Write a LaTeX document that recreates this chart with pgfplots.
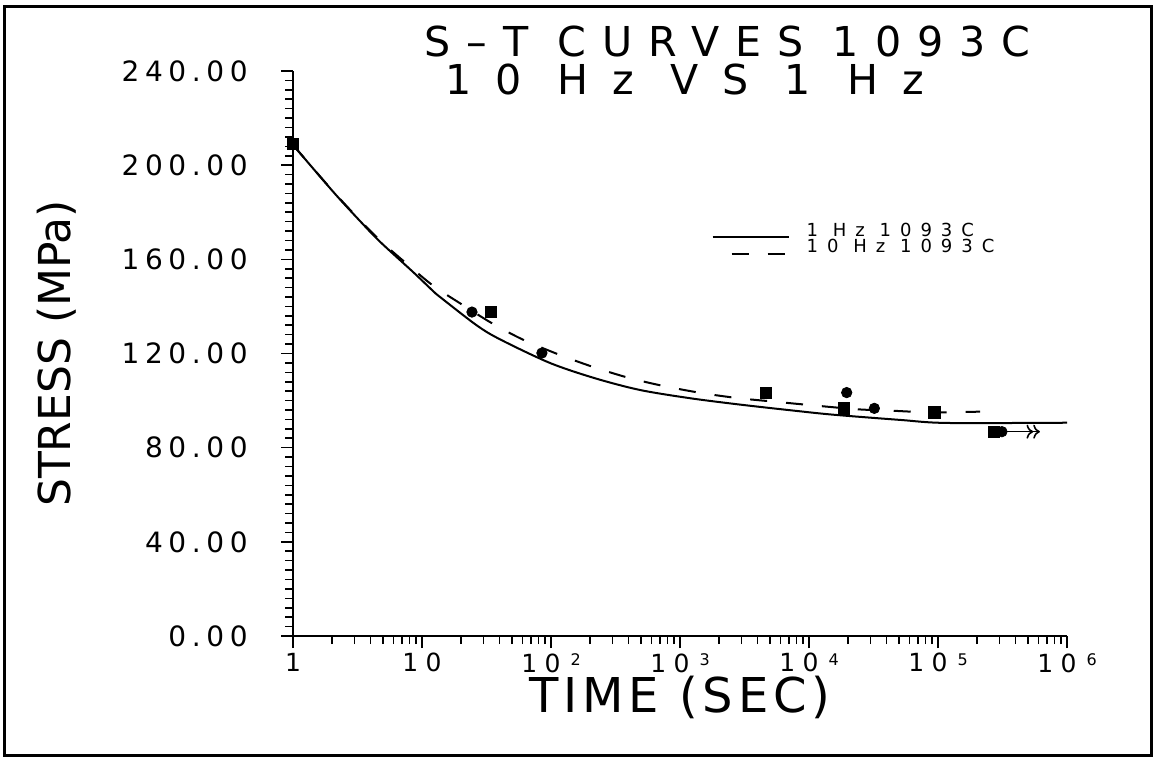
\documentclass[border=0pt]{standalone}
\usepackage{fontspec}
\setmainfont{DejaVu Sans}
\usepackage{pgfplots}
\pgfplotsset{compat=1.18}
\usetikzlibrary{arrows.meta}

\newcommand\ls[1]{\addfontfeatures{LetterSpace=#1}}
\newcommand\ex[1]{10\hspace{5pt}\raisebox{3.4pt}{\fontsize{8}{8}\selectfont #1}}

\begin{document}
\begin{tikzpicture}
\useasboundingbox (0,0) rectangle (577pt,378.5pt);
\draw[line width=1.5pt] (2pt,1pt) rectangle (575.5pt,375pt);

\begin{axis}[
  at={(146.5pt,60.5pt)}, anchor=south west,
  scale only axis, width=387pt, height=282.5pt,
  xmode=log, xmin=1, xmax=1e6, ymin=0, ymax=240,
  axis x line=bottom, axis y line=left,
  axis line style={-, line width=1pt},
  tick align=outside, tick style={black, line width=0.8pt},
  major tick length=6pt, minor tick length=4pt,
  xtick={1,10,100,1000,10000,100000,1000000},
  xticklabels={1,10,\ex{2},\ex{3},\ex{4},\ex{5},\ex{6}},
  minor xtick={2,3,4,5,6,7,8,9,20,30,40,50,60,70,80,90,200,300,400,500,600,700,800,900,
    2000,3000,4000,5000,6000,7000,8000,9000,20000,30000,40000,50000,60000,70000,80000,90000,
    200000,300000,400000,500000,600000,700000,800000,900000},
  ytick={0,40,...,240},
  yticklabels={0.00,40.00,80.00,120.00,160.00,200.00,240.00},
  minor y tick num=9,
  xticklabel style={anchor=north, inner sep=0pt, yshift=-2.5pt, font=\fontsize{12.5}{13}\selectfont\ls{30}},
  yticklabel style={anchor=east, inner sep=0pt, xshift=-16.5pt, font=\fontsize{14}{15}\selectfont\ls{20}},
  xlabel={TIME (SEC)},
  xlabel style={at={(axis description cs:0.5,-0.109)}, anchor=center, inner sep=0pt, font=\fontsize{24}{26}\selectfont\ls{10}},
  ylabel={STRESS (MPa)},
  ylabel style={at={(axis description cs:-0.305,0.5)}, anchor=center, inner sep=0pt, font=\fontsize{22}{24}\selectfont},
  clip=false,
  legend style={draw=none, fill=none, at={(axis description cs:0.541,0.731)}, anchor=north west,
    inner sep=0pt, outer sep=0pt, row sep=0pt, column sep=8.5pt,
    nodes={inner sep=0pt}, font=\fontsize{9}{9.5}\selectfont\ls{50}},
  legend cell align=left,
  legend image code/.code={\draw[#1] (0pt,-3pt) -- (38pt,-3pt);},
]
% 1 Hz curve
\addplot[black, line width=1pt, smooth, tension=0.5, forget plot] coordinates {
  (1,208.6) (1.72,193.5) (2.31,185.5) (3.41,175.5) (4.72,167.5) (8.57,154.5)
  (12.2,146.5) (13.8,144) (26.5,132) (40.3,126) (98,116) (219,109.5) (490,104.5)
  (1200,101) (2920,98.3) (8040,95.6) (15500,94.0) (50700,91.8) (117000,90.5) (1000000,90.6)};
% 10 Hz curve
\addplot[black, line width=1pt, smooth, tension=0.5, dash pattern=on 8.5pt off 9.5pt, forget plot] coordinates {
  (1,208.6) (1.72,193.6) (2.31,185.7) (3.41,175.8) (4.86,167.4) (7.66,158) (12.2,148.8)
  (19.9,141.2) (34.5,133) (60,126) (112,119.8) (204,114.6) (392,109.8) (731,106.3)
  (1470,103.2) (2870,101) (5750,99.4) (11100,97.9) (23800,96.3) (43800,95.7)
  (88300,95.0) (212000,95.3)};
% test points
\addplot[only marks, mark=*, mark size=2.6pt, black, forget plot] coordinates {
  (24.4,137.6) (85,120.2) (19600,103.4) (32100,96.7) (313000,86.8)};
\addplot[only marks, mark=square*, mark size=2.8pt, black, forget plot] coordinates {
  (1,209) (34.3,137.6) (4650,103.1) (18700,96.7) (93900,95.0) (272000,86.8)};
% run-out arrow
\addplot[black, line width=0.8pt, ->>, forget plot] coordinates {(343000,86.8) (617000,86.8)};

\addlegendimage{black, line width=1pt}
\addlegendentry{1 Hz 1093C}
\addlegendimage{black, line width=1pt, dash pattern=on 8.5pt off 9.5pt, dash phase=8.5pt}
\addlegendentry{10 Hz 1093C}
\end{axis}

\node[anchor=west, inner sep=0pt, font=\fontsize{20.6}{22}\selectfont\ls{39}] at (212pt,357.5pt) {S--T CURVES 1093C};
\node[anchor=west, inner sep=0pt, font=\fontsize{20.6}{22}\selectfont\ls{57}] at (222.5pt,338.5pt) {10 Hz VS 1 Hz};
\end{tikzpicture}
\end{document}
